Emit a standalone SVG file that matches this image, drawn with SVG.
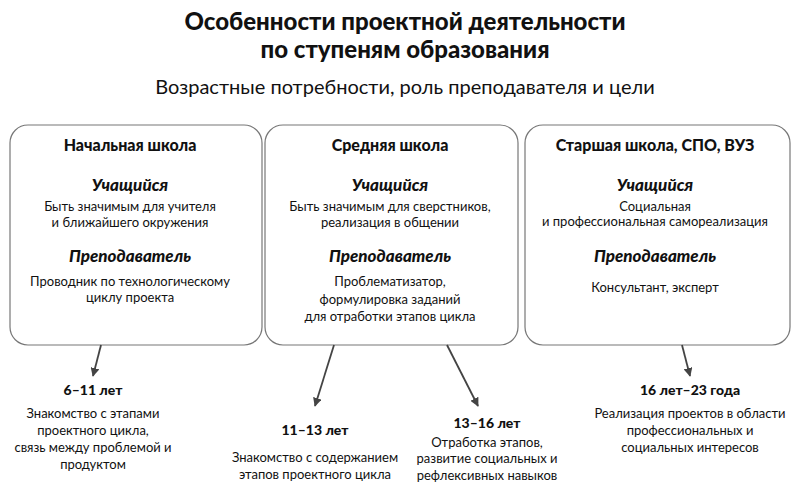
<svg xmlns="http://www.w3.org/2000/svg" width="800" height="486" viewBox="0 0 800 486">
<style>
text{font-family:Lato,"Open Sans","DejaVu Sans",sans-serif;fill:#111;text-anchor:middle}
.t{font-size:24px;font-weight:900}
.s{font-size:20px}
.h{font-size:16px;font-weight:900}
.r{font-size:17px;font-weight:900;font-style:italic}
.b{font-size:13px}
.a{font-size:14px;font-weight:900}
.box{fill:#fff;stroke:#777;stroke-width:1.2}
.c{stroke:#444;stroke-width:1.8;fill:none;marker-end:url(#m)}
</style>
<defs><marker id="m" viewBox="0 0 10 10" refX="9" refY="5" markerWidth="5" markerHeight="5" orient="auto"><path d="M0,0L10,5L0,10z" fill="#444"/></marker></defs>
<rect width="800" height="486" fill="#fff"/>
<g id="title"><text class="t" x="405" y="30">Особенности проектной деятельности</text><text class="t" x="405" y="58">по ступеням образования</text><text class="s" x="405" y="94">Возрастные потребности, роль преподавателя и цели</text></g>
<g id="box1"><rect class="box" x="10" y="125" width="252" height="220" rx="18"/>
<text class="h" x="130" y="151">Начальная школа</text><text class="r" x="130" y="191">Учащийся</text>
<text class="b" x="130" y="211">Быть значимым для учителя</text><text class="b" x="130" y="227">и ближайшего окружения</text>
<text class="r" x="130" y="262">Преподаватель</text>
<text class="b" x="130" y="286">Проводник по технологическому</text><text class="b" x="130" y="302">циклу  проекта</text></g>
<g id="box2"><rect class="box" x="265" y="125" width="253" height="220" rx="18"/>
<text class="h" x="390" y="151">Средняя школа</text><text class="r" x="390" y="191">Учащийся</text>
<text class="b" x="390" y="211">Быть значимым для сверстников,</text><text class="b" x="390" y="227">реализация в общении</text>
<text class="r" x="390" y="262">Преподаватель</text>
<text class="b" x="390" y="286">Проблематизатор,</text><text class="b" x="390" y="304">формулировка заданий</text><text class="b" x="390" y="321">для отработки этапов цикла</text></g>
<g id="box3"><rect class="box" x="525" y="125" width="265" height="220" rx="18"/>
<text class="h" x="655" y="151">Старшая школа, СПО, ВУЗ</text><text class="r" x="655" y="191">Учащийся</text>
<text class="b" x="655" y="211">Социальная</text><text class="b" x="655" y="226">и профессиональная самореализация</text>
<text class="r" x="655" y="262">Преподаватель</text>
<text class="b" x="655" y="292">Консультант, эксперт</text></g>
<g id="connectors"><path class="c" d="M101,345L93,376"/><path class="c" d="M334,345L315,406"/><path class="c" d="M447,345L478,406"/><path class="c" d="M682,345L690,376"/></g>
<g id="age1"><text class="a" x="93" y="395">6–11 лет</text><text class="b" x="93" y="418">Знакомство с этапами</text><text class="b" x="93" y="435">проектного цикла,</text><text class="b" x="93" y="452">связь между проблемой и</text><text class="b" x="93" y="469">продуктом</text></g>
<g id="age2"><text class="a" x="315" y="435">11–13 лет</text><text class="b" x="315" y="462">Знакомство с содержанием</text><text class="b" x="315" y="479">этапов проектного цикла</text></g>
<g id="age3"><text class="a" x="487" y="428">13–16 лет</text><text class="b" x="487" y="447">Отработка этапов,</text><text class="b" x="487" y="463">развитие социальных и</text><text class="b" x="487" y="480">рефлексивных навыков</text></g>
<g id="age4"><text class="a" x="690" y="395">16 лет–23 года</text><text class="b" x="690" y="418">Реализация проектов в области</text><text class="b" x="690" y="435">профессиональных и</text><text class="b" x="690" y="452">социальных интересов</text></g>
</svg>
